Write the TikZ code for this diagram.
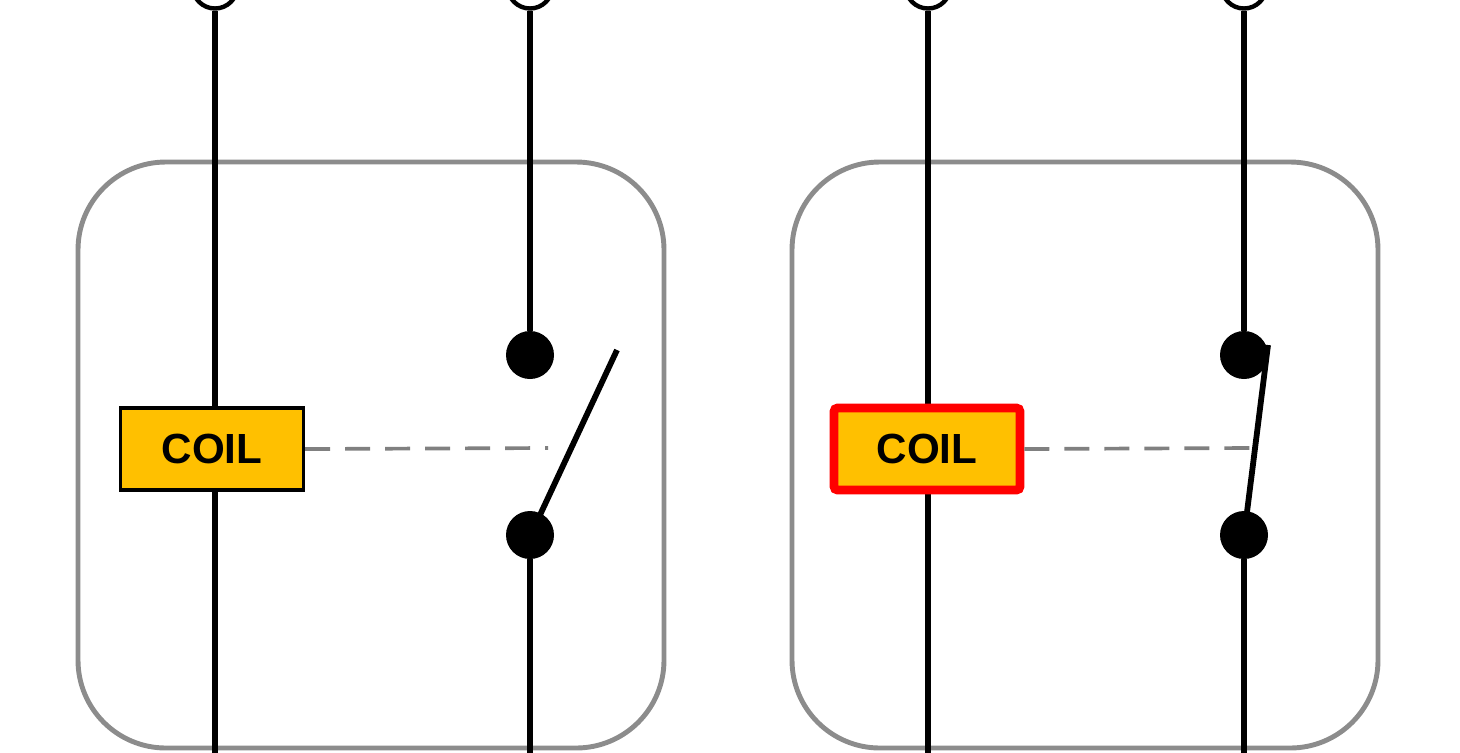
\documentclass[tikz,border=0pt]{standalone}
\usepackage{fontspec}
\setmainfont{Liberation Sans}
\usetikzlibrary{positioning}
\definecolor{coilfill}{HTML}{FFC000}

\tikzset{
  wire/.style={line width=3.3pt, black},
  housing/.style={draw=gray!90, line width=2.8pt, rounded corners=50pt},
  coilbox/.style={draw=black, fill=coilfill, line width=1.9pt,
    minimum width=3.66cm, minimum height=1.64cm, inner sep=0pt,
    font=\fontsize{24}{24}\selectfont\bfseries},
  hotcoil/.style={coilbox, draw=red, line width=5pt, rounded corners=2pt,
    minimum width=3.72cm, minimum height=1.64cm},
  contact/.style={circle, fill=black, minimum size=0.96cm, inner sep=0pt},
  terminal/.style={circle, draw=black, fill=white, line width=2.5pt, minimum size=0.9cm, inner sep=0pt},
  linkage/.style={dash pattern=on 0.5cm off 0.3cm, gray, line width=2.1pt}
}

\begin{document}
\begin{tikzpicture}[x=0.02cm, y=-0.02cm]
    \useasboundingbox (0,0) rectangle (1460,752);
    % relay housings
    \draw[housing] (78,162) rectangle (664,748);
    \draw[housing] (792,162) rectangle (1378,748);
    % left relay (open)
    \node[terminal] (tA) at (215,-14) {};
    \node[terminal] (tB) at (530,-14) {};
    \coordinate (bA) at (215,760);
    \coordinate (bB) at (530,760);
    \node[contact] (cA) at (530,355) {};
    \node[contact] (cB) at (530,535) {};
    \draw[wire] (tA) -- (bA);
    \draw[wire] (tB) -- (cA);
    \draw[wire] (cB) -- (bB);
    \coordinate (armA) at (617,350);
    \coordinate (pivA) at (540,515);
    \draw[wire] (pivA) -- (armA);
    \node[coilbox] (coilA) at (212,449) {\raisebox{-4pt}{COIL}};
    \coordinate (dA) at (548,448);
    \draw[linkage] (coilA.east) -- (dA);
    % right relay (closed)
    \node[terminal] (tC) at (928,-14) {};
    \node[terminal] (tD) at (1244,-14) {};
    \coordinate (bC) at (928,760);
    \coordinate (bD) at (1244,760);
    \node[contact] (cC) at (1244,355) {};
    \node[contact] (cD) at (1244,535) {};
    \draw[wire] (tC) -- (bC);
    \draw[wire] (tD) -- (cC);
    \draw[wire] (cD) -- (bD);
    \coordinate (armC) at (1268,345);
    \coordinate (pivC) at (1246,520);
    \draw[wire] (pivC) -- (armC);
    \node[hotcoil] (coilC) at (927,449) {\raisebox{-4pt}{COIL}};
    \coordinate (dC) at (1250,448);
    \draw[linkage] (coilC.east) -- (dC);
\end{tikzpicture}
\end{document}
